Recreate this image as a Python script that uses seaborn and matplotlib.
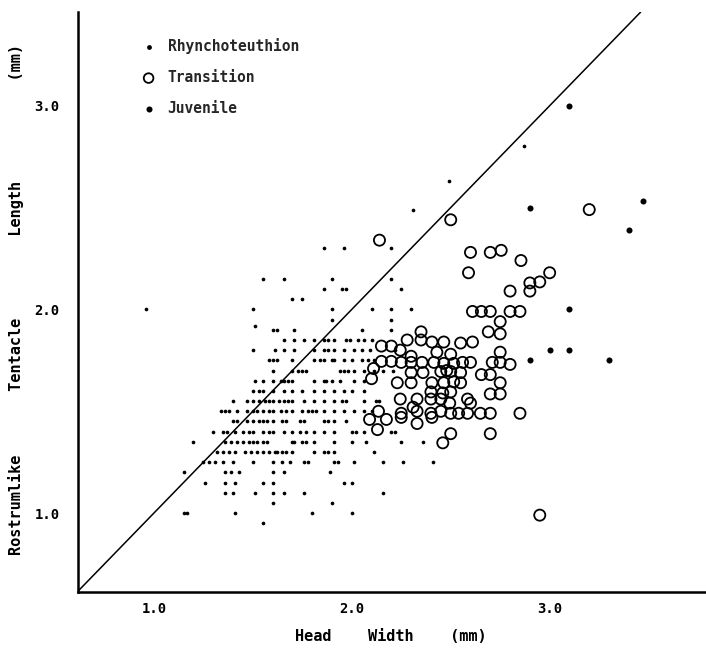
import numpy as np
import pandas as pd
import matplotlib
matplotlib.use("Agg")
import matplotlib.pyplot as plt
import seaborn as sns

sns.set_theme(style="white")
plt.rcParams["font.family"] = ["DejaVu Sans Mono"]
plt.rcParams["font.weight"] = "bold"

# Rhynchoteuthion: rostrumlike tentacle length (mm) -> head widths (mm) in that row
rhyn_rows = {
    2.80: [2.87],
    2.63: [2.49],
    2.49: [2.31],
    2.30: [1.86, 1.96, 2.20],
    2.15: [1.55, 1.66, 1.90, 2.20],
    2.10: [1.86, 1.95, 1.97, 2.25],
    2.05: [1.70, 1.75],
    2.00: [0.96, 1.50, 1.90, 2.10, 2.20, 2.30],
    1.95: [1.90, 2.20],
    1.92: [1.51],
    1.90: [1.60, 1.62, 1.71, 2.05, 2.20],
    1.85: [1.66, 1.71, 1.76, 1.81, 1.86, 1.88, 1.91, 1.97, 1.99, 2.03, 2.06, 2.10],
    1.80: [1.50, 1.61, 1.66, 1.71, 1.81, 1.86, 1.88, 1.91, 1.96, 2.01, 2.05, 2.09, 2.22],
    1.75: [1.58, 1.60, 1.62, 1.70, 1.81, 1.84, 1.86, 1.90, 1.91, 1.96, 2.00, 2.05, 2.08, 2.11],
    1.70: [1.60, 1.70, 1.73, 1.75, 1.77, 1.94, 1.96, 1.98, 2.01, 2.06, 2.11, 2.16, 2.21],
    1.65: [1.51, 1.55, 1.60, 1.64, 1.66, 1.68, 1.70, 1.81, 1.86, 1.87, 1.90, 1.94, 2.01, 2.06],
    1.60: [1.50, 1.53, 1.55, 1.60, 1.66, 1.70, 1.75, 1.81, 1.86, 1.91, 1.96, 2.00, 2.06],
    1.55: [1.40, 1.47, 1.50, 1.53, 1.56, 1.58, 1.60, 1.63, 1.66, 1.68, 1.70, 1.76, 1.81,
           1.86, 1.91, 1.95, 1.97, 2.06, 2.12, 2.14],
    1.50: [1.34, 1.36, 1.38, 1.42, 1.47, 1.50, 1.52, 1.55, 1.58, 1.60, 1.64, 1.67, 1.70,
           1.75, 1.78, 1.80, 1.82, 1.86, 1.91, 1.96, 2.01, 2.06, 2.10],
    1.45: [1.40, 1.42, 1.47, 1.50, 1.53, 1.55, 1.57, 1.60, 1.65, 1.67, 1.74, 1.76, 1.86,
           1.88, 1.91, 1.97],
    1.40: [1.30, 1.35, 1.37, 1.41, 1.45, 1.48, 1.50, 1.55, 1.58, 1.60, 1.66, 1.70, 1.74,
           1.77, 1.81, 1.86, 1.91, 2.00, 2.02, 2.06, 2.20, 2.22],
    1.35: [1.20, 1.36, 1.39, 1.42, 1.45, 1.48, 1.50, 1.52, 1.55, 1.57, 1.70, 1.71, 1.75,
           1.77, 1.81, 1.91, 2.00, 2.07, 2.25, 2.36],
    1.30: [1.32, 1.35, 1.38, 1.41, 1.46, 1.49, 1.52, 1.55, 1.58, 1.61, 1.62, 1.65, 1.67,
           1.70, 1.81, 1.86, 1.88, 1.91, 2.11],
    1.25: [1.25, 1.28, 1.31, 1.35, 1.40, 1.50, 1.60, 1.65, 1.69, 1.76, 1.78, 1.91, 1.93,
           2.01, 2.16, 2.26, 2.41],
    1.20: [1.15, 1.36, 1.39, 1.43, 1.60, 1.66, 1.89],
    1.15: [1.26, 1.36, 1.41, 1.55, 1.60, 1.96, 2.00],
    1.10: [1.36, 1.40, 1.51, 1.60, 1.66, 1.76, 2.16],
    1.05: [1.60, 1.90],
    1.00: [1.15, 1.17, 1.41, 1.80, 2.00],
    0.95: [1.55],
}

# Transition stage (open circles)
trans_x = [2.50, 3.20, 2.14, 2.60, 2.70, 2.755, 2.855, 2.59, 3.00, 2.90, 2.95, 2.90, 2.80,
           2.61, 2.655, 2.70, 2.80, 2.85, 2.75, 2.69, 2.75, 2.35,
           2.28, 2.35, 2.405, 2.465, 2.55, 2.61, 2.15, 2.20,
           2.245, 2.43, 2.75, 2.50, 2.30,
           2.15, 2.20, 2.25, 2.30, 2.355, 2.415, 2.465, 2.515, 2.56, 2.60, 2.71, 2.75, 2.80,
           2.11, 2.48,
           2.30, 2.36, 2.45, 2.50, 2.55, 2.655, 2.70,
           2.10,
           2.23, 2.30, 2.405, 2.465, 2.515, 2.55, 2.75,
           2.40, 2.46, 2.50, 2.70, 2.75,
           2.245, 2.33, 2.40, 2.45, 2.495, 2.585, 2.60, 2.31,
           2.135, 2.25, 2.33, 2.40, 2.45, 2.50, 2.54, 2.585, 2.65, 2.70, 2.85,
           2.09, 2.175, 2.25, 2.405, 2.33,
           2.13, 2.50, 2.70, 2.46, 2.95]
trans_y = [2.44, 2.49, 2.34, 2.28, 2.28, 2.29, 2.24, 2.18, 2.18, 2.13, 2.135, 2.09, 2.09,
           1.99, 1.99, 1.99, 1.99, 1.99, 1.94, 1.89, 1.88, 1.89,
           1.85, 1.85, 1.84, 1.84, 1.835, 1.84, 1.82, 1.82,
           1.80, 1.79, 1.79, 1.78, 1.77,
           1.745, 1.745, 1.74, 1.74, 1.74, 1.74, 1.735, 1.735, 1.74, 1.74, 1.74, 1.74, 1.73,
           1.71, 1.70,
           1.69, 1.69, 1.695, 1.695, 1.69, 1.68, 1.68,
           1.66,
           1.64, 1.64, 1.64, 1.64, 1.645, 1.64, 1.64,
           1.595, 1.59, 1.595, 1.585, 1.585,
           1.56, 1.56, 1.56, 1.56, 1.54, 1.56, 1.54, 1.52,
           1.50, 1.49, 1.50, 1.49, 1.50, 1.49, 1.49, 1.49, 1.49, 1.49, 1.49,
           1.46, 1.46, 1.47, 1.47, 1.44,
           1.41, 1.39, 1.39, 1.345, 0.99]

# Juvenile (filled dots)
juv_x = [3.10, 2.90, 3.47, 3.40, 3.10, 3.00, 3.10, 2.90, 3.30]
juv_y = [3.00, 2.50, 2.53, 2.39, 2.00, 1.80, 1.80, 1.75, 1.75]

x_ticks = [1.0, 2.0, 3.0]
y_ticks = [1.0, 2.0, 3.0]
tick_labels = ["1.0", "2.0", "3.0"]

rhyn = pd.DataFrame([(x, y) for y, xs in rhyn_rows.items() for x in xs],
                    columns=["head_width", "tentacle"])
trans = pd.DataFrame({"head_width": trans_x, "tentacle": trans_y})
juv = pd.DataFrame({"head_width": juv_x, "tentacle": juv_y})

fig = plt.figure(figsize=(7.06, 6.5), dpi=100)
ax = fig.add_axes([0.110, 0.089, 0.89, 0.8925])

sns.scatterplot(data=rhyn, x="head_width", y="tentacle", ax=ax, s=7, color="black",
                linewidth=0, marker="o", label="Rhynchoteuthion")
sns.scatterplot(data=trans, x="head_width", y="tentacle", ax=ax, s=64, facecolor="none",
                edgecolor="black", linewidth=1.3, marker="o", label="Transition")
sns.scatterplot(data=juv, x="head_width", y="tentacle", ax=ax, s=19, color="black",
                linewidth=0, marker="o", label="Juvenile")

# 1:1 reference line
ax.axline((1.0, 1.0), slope=1, color="black", linewidth=1.1)

ax.set_xlim(0.615, 3.79)
ax.set_ylim(0.612, 3.46)
ax.set_xticks(x_ticks)
ax.set_xticklabels(tick_labels)
ax.set_yticks(y_ticks)
ax.set_yticklabels(tick_labels)

sns.despine(ax=ax)
for side in ["left", "bottom"]:
    ax.spines[side].set_linewidth(1.8)
    ax.spines[side].set_color("black")
ax.tick_params(axis="both", direction="in", length=6.5, width=1.3, color="black",
               labelsize=10, labelcolor="black")
ax.tick_params(axis="x", pad=7)
ax.tick_params(axis="y", pad=13)

ax.set_xlabel("Head    Width    (mm)", fontsize=11, fontweight="bold", color="black")
ax.set_ylabel("Rostrumlike       Tentacle         Length           (mm)", fontsize=11,
              fontweight="bold", color="black")
ax.xaxis.set_label_coords(0.498, -0.063)
ax.yaxis.set_label_coords(-0.085, 0.505)

handles, labels = ax.get_legend_handles_labels()
leg = ax.legend(handles, labels, loc="upper left", bbox_to_anchor=(0.092, 0.968),
                frameon=False, fontsize=10.5, handlelength=0.8, handletextpad=0.9,
                labelspacing=1.1, borderpad=0)
for t in leg.get_texts():
    t.set_fontweight("bold")
for h, size in zip(leg.legend_handles, [12, 48, 19]):
    h.set_sizes([size])

fig.savefig("out.png", dpi=100, facecolor="white")
